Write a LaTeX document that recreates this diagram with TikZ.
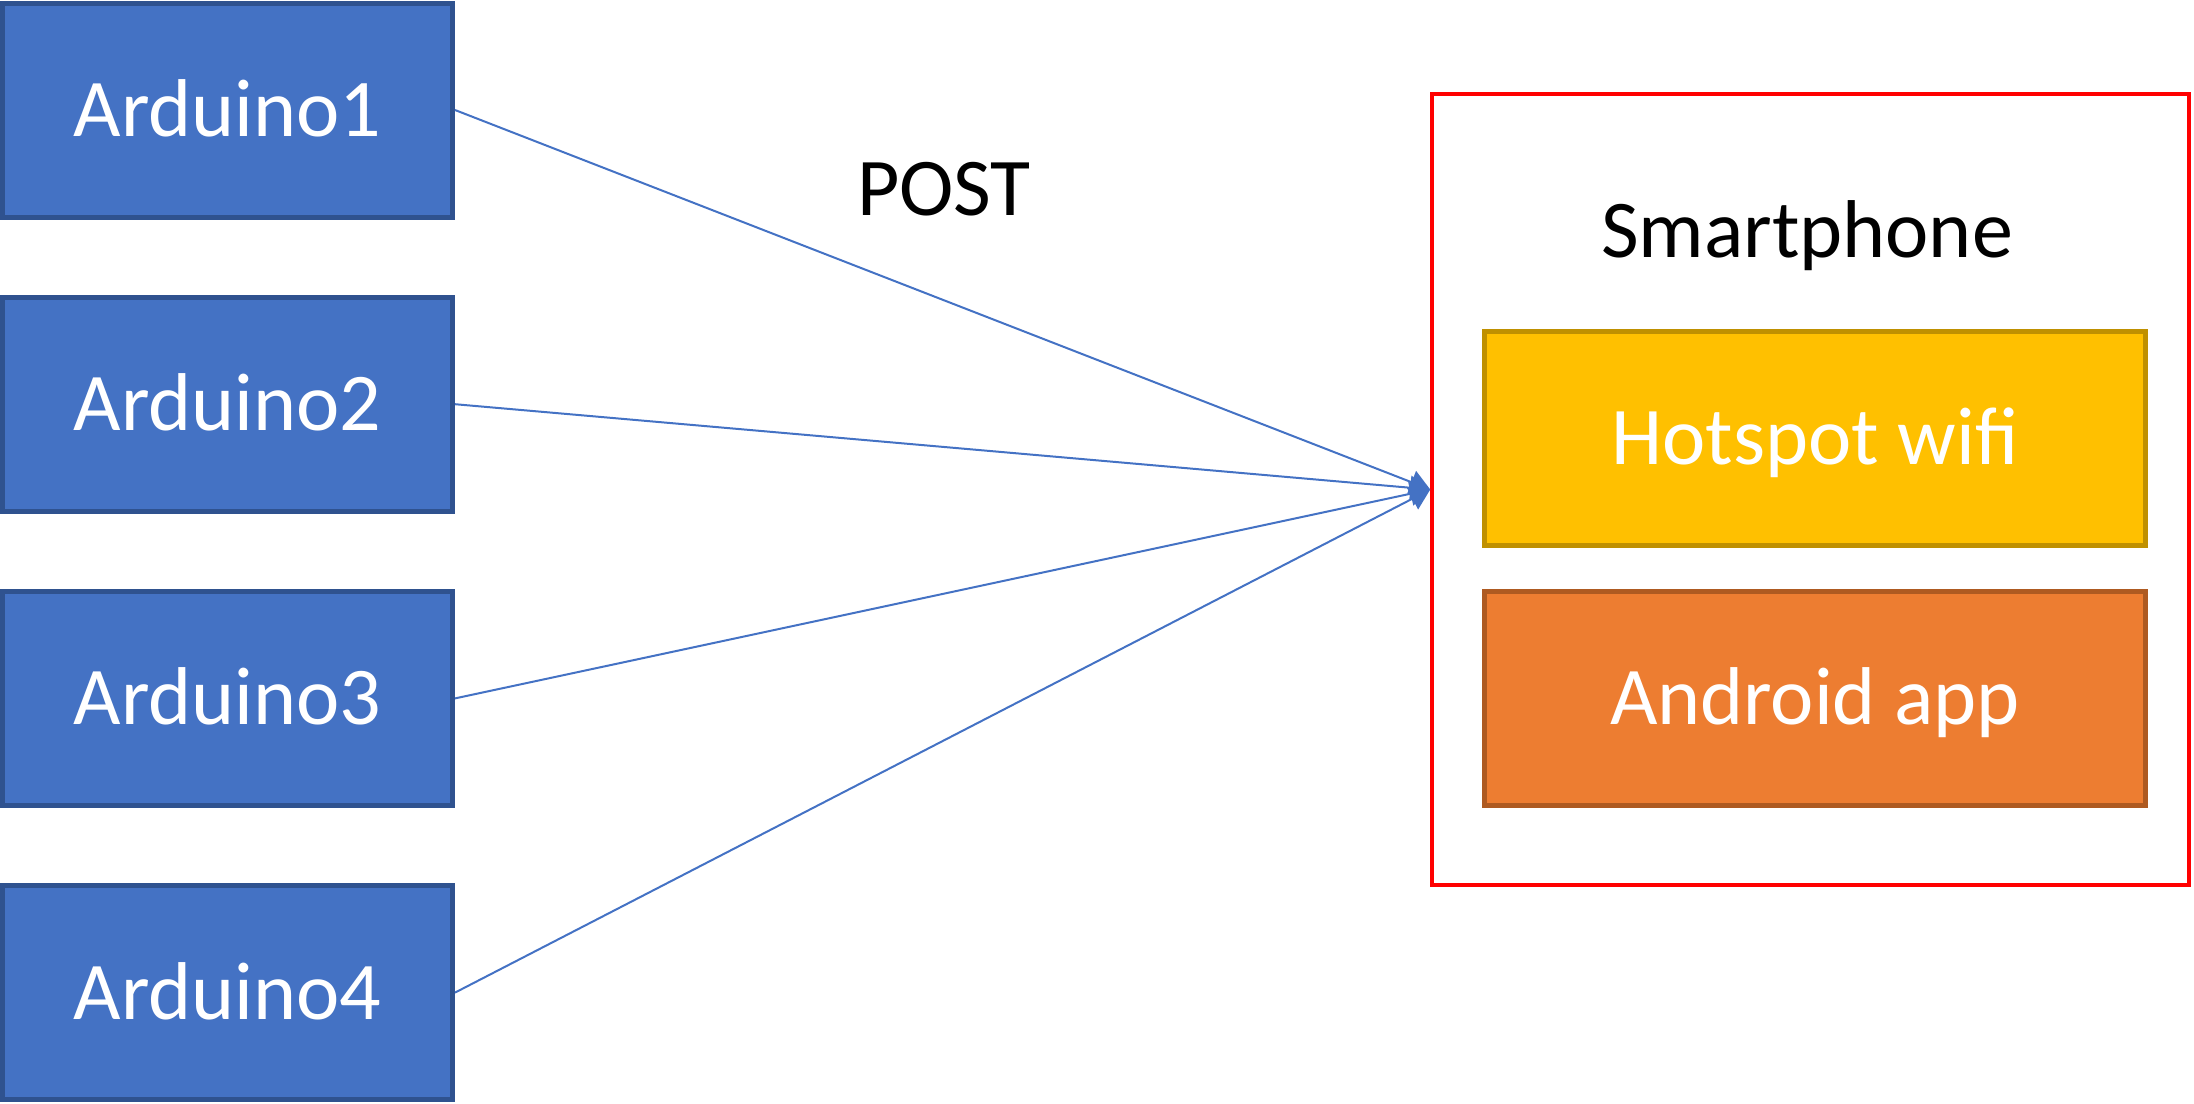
\documentclass[tikz,border=0pt]{standalone}
\usepackage{fontspec}
\setmainfont{Carlito}
\usetikzlibrary{positioning, arrows.meta}

\definecolor{boardfill}{HTML}{4472C4}
\definecolor{boardedge}{HTML}{2F528F}
\definecolor{hotfill}{HTML}{FFC000}
\definecolor{hotedge}{HTML}{BF9000}
\definecolor{appfill}{HTML}{ED7D31}
\definecolor{appedge}{HTML}{AE5A21}

\begin{document}
\begin{tikzpicture}[
        x=0.5pt, y=-0.5pt,
        node distance=37.6pt and 37.6pt,
        big/.style={font=\fontsize{41}{49}\selectfont},
        board/.style={rectangle, draw=boardedge, fill=boardfill, line width=2.5pt, minimum width=225pt, minimum height=107pt, inner sep=0pt, text=white, big, text height=26.4pt, text depth=0pt},
        part/.style={board, minimum width=330.5pt},
        phonebox/.style={rectangle, draw=red, line width=1.75pt, minimum width=378.5pt, minimum height=395.5pt, inner sep=0pt},
        arr/.style={-{Triangle[length=10pt, width=12pt]}, draw=boardfill, line width=1pt}
    ]
        \useasboundingbox (0,0) rectangle (2194,1103);

        \node[phonebox] (phone) at (1810.5,489.5) {};
        \node[big, anchor=base] (phonelbl) at (1807,257) {Smartphone};
        \node[part, draw=hotedge, fill=hotfill] (hotspot) at (1815,438.5) {Hotspot wifi};
        \node[part, draw=appedge, fill=appfill, below=20.5pt of hotspot] (app) {Android app};

        \node[board] (a1) at (227.5,110) {Arduino1};
        \node[board, below=of a1] (a2) {Arduino2};
        \node[board, below=of a2] (a3) {Arduino3};
        \node[board, below=of a3] (a4) {Arduino4};

        \node[big, anchor=base] (post) at (944,215) {POST};

        \draw[arr] (a1.east) -- (phone.west);
        \draw[arr] (a2.east) -- (phone.west);
        \draw[arr] (a3.east) -- (phone.west);
        \draw[arr] (a4.east) -- (phone.west);
    \end{tikzpicture}
\end{document}
